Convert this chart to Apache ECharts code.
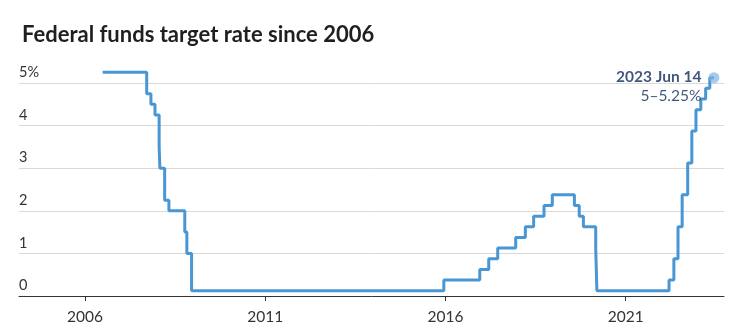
<!DOCTYPE html>
<html>
<head>
<meta charset="utf-8">
<script src="https://cdn.jsdelivr.net/npm/echarts@6/dist/echarts.min.js"></script>
<style>
html,body{margin:0;padding:0;background:#fff;}
#chart{width:740px;height:331px;}
</style>
</head>
<body>
<div id="chart"></div>
<script>
// Dates of target changes and the (midpoint) target rate from that date
const changeDates = [
  '2006-06-29','2007-09-18','2007-10-31','2007-12-11','2008-01-22','2008-01-30',
  '2008-03-18','2008-04-30','2008-10-08','2008-10-29','2008-12-16','2015-12-16',
  '2016-12-14','2017-03-15','2017-06-14','2017-12-13','2018-03-21','2018-06-13',
  '2018-09-26','2018-12-19','2019-07-31','2019-09-18','2019-10-30','2020-03-03',
  '2020-03-15','2022-03-16','2022-05-04','2022-06-15','2022-07-27','2022-09-21',
  '2022-11-02','2022-12-14','2023-02-01','2023-03-22','2023-05-03','2023-06-14'
];
const rates = [
  5.25, 4.75, 4.5, 4.25, 3.5, 3.0,
  2.25, 2.0, 1.5, 1.0, 0.125, 0.375,
  0.625, 0.875, 1.125, 1.375, 1.625, 1.875,
  2.125, 2.375, 2.125, 1.875, 1.625, 1.125,
  0.125, 0.375, 0.875, 1.625, 2.375, 3.125,
  3.875, 4.375, 4.625, 4.875, 5.125, 5.125
];
const xTickDates = ['2006-01-01','2011-01-01','2016-01-01','2021-01-01'];
const yTicks = [0, 1, 2, 3, 4, 5];
const titleText = 'Federal funds target rate since 2006';
const noteDate = '2023 Jun 14';
const noteRange = '5–5.25%';

const ts = d => new Date(d + 'T00:00:00Z').getTime();
const seriesData = changeDates.map((d, i) => [ts(d), rates[i]]);
const lastPoint = seriesData[seriesData.length - 1];

const chart = echarts.init(document.getElementById('chart'), null, {renderer: 'canvas'});
chart.setOption({
  animation: false,
  backgroundColor: '#fff',
  title: {
    text: titleText,
    left: 17, top: 19,
    textStyle: {fontFamily: 'Lato', fontWeight: 'bold', fontSize: 22, color: '#1f1f1f'}
  },
  grid: {left: 19, right: 16, top: 83, bottom: 35, containLabel: false},
  xAxis: {
    type: 'value',
    min: ts('2004-03-03'),
    max: ts('2023-09-24'),
    axisLine: {show: true, lineStyle: {color: '#333', width: 1}},
    axisTick: {show: true, customValues: xTickDates.map(ts), length: 5, lineStyle: {color: '#333'}},
    axisLabel: {
      customValues: xTickDates.map(ts),
      formatter: v => String(new Date(v).getUTCFullYear()),
      fontFamily: 'Lato', fontSize: 15.5, color: '#333', margin: 13
    },
    splitLine: {show: false}
  },
  yAxis: {
    type: 'value',
    min: 0, max: 5, interval: 1,
    axisLine: {show: false},
    axisTick: {show: false},
    axisLabel: {
      inside: true, margin: 0,
      verticalAlign: 'bottom', align: 'left',
      padding: [0, 0, 3, 0],
      formatter: v => (v === 5 ? v + '%' : String(v)),
      fontFamily: 'Lato', fontSize: 14.5, color: '#333'
    },
    splitLine: {show: true, lineStyle: {color: '#d9d9d9', width: 1}}
  },
  series: [
    {
      type: 'line',
      data: seriesData,
      step: 'end',
      clip: false,
      showSymbol: false,
      symbol: 'none',
      lineStyle: {color: '#4a96d3', width: 3},
      z: 3
    },
    {
      type: 'scatter',
      data: [lastPoint],
      clip: false,
      symbolSize: 11,
      itemStyle: {color: 'rgba(125,178,228,0.85)'},
      z: 4,
      label: {
        show: true,
        position: 'left',
        distance: 7,
        offset: [0, 9],
        align: 'right',
        formatter: '{a|' + noteDate + '}\n{b|' + noteRange + '}',
        rich: {
          a: {fontFamily: 'Lato', fontWeight: 'bold', fontSize: 15.5, color: '#0f2a5a', lineHeight: 19, align: 'right'},
          b: {fontFamily: 'Lato', fontSize: 15.5, color: '#0f2a5a', lineHeight: 19, align: 'right'}
        }
      }
    }
  ]
});
</script>
</body>
</html>
